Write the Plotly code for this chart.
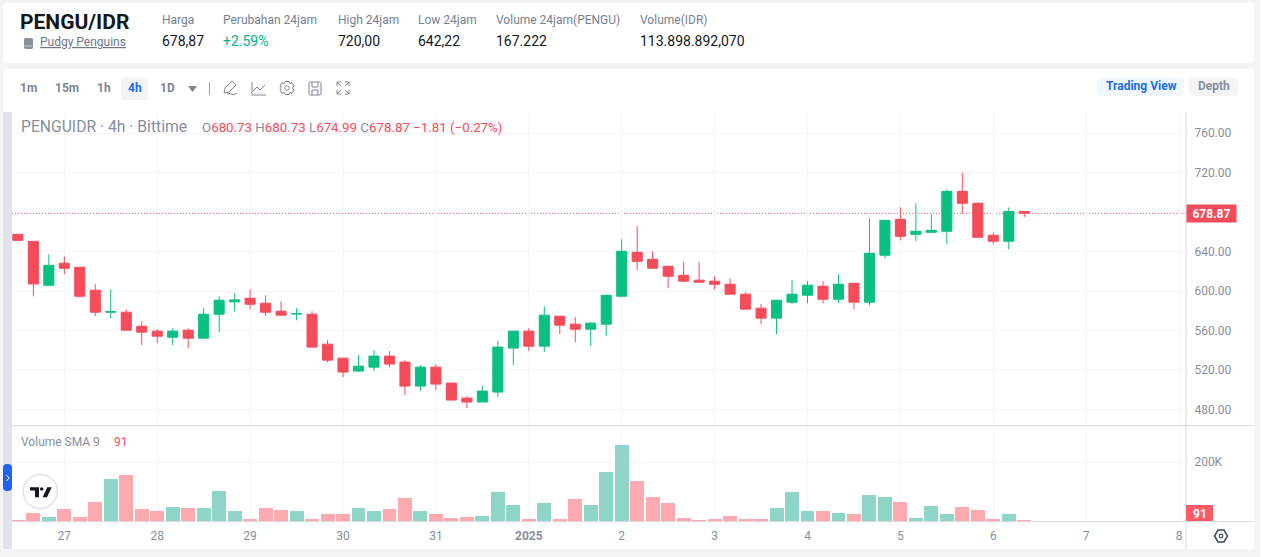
"""PENGU/IDR 4h candlestick chart with volume pane."""
import re

import pandas as pd
import plotly.graph_objects as go
from plotly.subplots import make_subplots

W, H = 1262, 557
FONT = "Roboto"
RED = "#f44c5a"
GREEN = "#0abf82"
GRAY = "#878e9e"
GRID = "#f3f4f6"
BORDER = "#d8dae0"

opens = [657.5, 650.4, 605.9, 628.2, 624.1, 600.8, 578.5, 578.5, 564.3, 559.3, 553.2, 560.3,
         552.2, 576.5, 589.0, 592.7, 587.6, 579.5, 576.6, 576.5, 546.1, 531.9, 518.8, 522.8,
         534.0, 527.9, 503.6, 522.8, 506.6, 491.4, 487.4, 497.5, 542.1, 559.3, 544.1, 574.5,
         566.4, 561.3, 566.4, 594.7, 639.3, 632.2, 625.1, 616.0, 611.0, 610.0, 606.9, 596.8,
         582.6, 572.5, 588.7, 595.8, 604.9, 591.7, 607.9, 588.7, 636.3, 672.7, 657.5, 659.6,
         660.6, 701.1, 689.0, 656.5, 650.5, 680.73]
highs = [657.5, 650.4, 637.3, 635.2, 624.1, 606.9, 601.8, 581.6, 569.4, 561.3, 562.3, 562.3,
         582.6, 594.7, 597.8, 601.8, 595.7, 589.7, 582.6, 579.5, 550.2, 531.9, 535.0, 540.0,
         539.0, 529.9, 524.8, 525.9, 506.6, 493.4, 503.6, 549.2, 559.3, 562.3, 584.6, 574.5,
         573.5, 568.4, 595.7, 652.5, 665.7, 640.3, 625.1, 629.2, 629.2, 615.0, 613.0, 598.8,
         586.7, 590.7, 611.0, 610.0, 610.0, 617.0, 607.9, 673.8, 671.7, 684.9, 688.9, 677.8,
         703.1, 720.0, 690.0, 659.6, 684.9, 680.73]
lows = [651.4, 594.7, 605.9, 617.0, 593.7, 574.5, 572.5, 559.3, 545.1, 547.1, 545.1, 542.1,
        551.2, 558.3, 579.5, 581.6, 574.5, 575.5, 570.4, 543.1, 527.9, 512.7, 517.8, 518.8,
        522.8, 494.5, 498.5, 499.5, 489.4, 481.3, 487.4, 492.4, 524.8, 539.0, 538.0, 556.2,
        548.1, 544.1, 554.2, 594.7, 621.1, 623.1, 602.9, 608.9, 608.9, 601.8, 596.8, 581.6,
        566.4, 556.3, 586.7, 587.7, 587.7, 587.7, 581.6, 585.6, 633.2, 651.5, 650.5, 658.6,
        647.4, 678.5, 654.5, 647.4, 642.4, 674.99]
closes = [651.4, 607.2, 626.1, 623.1, 594.7, 578.5, 579.2, 560.3, 558.3, 554.2, 559.3, 552.2,
          576.5, 590.7, 591.0, 586.6, 578.5, 575.5, 577.2, 543.1, 529.9, 517.8, 523.8, 534.0,
          525.9, 503.6, 522.8, 505.6, 489.4, 487.4, 498.5, 543.1, 559.3, 544.1, 575.5, 565.4,
          561.3, 567.4, 595.7, 640.3, 630.2, 623.1, 615.0, 610.0, 608.9, 606.9, 596.8, 581.6,
          572.5, 590.7, 596.8, 605.9, 591.7, 606.9, 588.7, 638.3, 671.7, 655.5, 660.6, 661.6,
          701.1, 689.0, 654.5, 650.5, 680.8, 678.87]
volumes = [3400, 27000, 14000, 41000, 14000, 65000, 143000, 157000, 41000, 34000, 48000, 44000,
           44000, 102000, 34000, 7000, 44000, 37000, 34000, 7000, 24000, 24000, 44000, 34000,
           41000, 78000, 34000, 24000, 10000, 14000, 17000, 99000, 55000, 7000, 61000, 7000,
           75000, 55000, 167000, 259000, 136000, 82000, 61000, 10000, 3400, 7000, 17000, 7000,
           7000, 44000, 99000, 34000, 34000, 27000, 24000, 89000, 82000, 65000, 10000, 51000,
           24000, 48000, 37000, 7000, 24000, 3400]

day_ticks = ["2024-12-27", "2024-12-28", "2024-12-29", "2024-12-30", "2024-12-31", "2025-01-01",
             "2025-01-02", "2025-01-03", "2025-01-04", "2025-01-05", "2025-01-06", "2025-01-07",
             "2025-01-08"]
day_labels = ["27", "28", "29", "30", "31", "<b>2025</b>", "2", "3", "4", "5", "6", "7", "8"]
price_ticks = [480, 520, 560, 600, 640, 680, 720, 760]
price_labels = ["480.00", "520.00", "560.00", "600.00", "640.00", "", "720.00", "760.00"]

header_labels = ["Harga", "Perubahan 24jam", "High 24jam", "Low 24jam", "Volume 24jam(PENGU)", "Volume(IDR)"]
header_values = ["678,87", "+2.59%", "720,00", "642,22", "167.222", "113.898.892,070"]
header_x = [162, 223, 338, 418, 496, 640]
intervals = ["1m", "15m", "1h", "4h", "1D"]
interval_x = [28.5, 67, 103.5, 135, 167]

times = pd.date_range("2024-12-26 12:00", periods=len(closes), freq="4h")
last_price = closes[-1]


def xp(x):
    return x / W


def yp(y):
    return 1 - y / H


def pix_path(d):
    # path string in page pixels -> paper coordinates
    out, is_x = [], True
    for tok in re.findall(r"[MLQCZ]|-?[\d.]+", d):
        if tok in "MLQCZ":
            out.append(tok)
            is_x = True
        else:
            out.append(f"{xp(float(tok)):.5f}" if is_x else f"{yp(float(tok)):.5f}")
            is_x = not is_x
    return " ".join(out)


def rounded(x0, y0, x1, y1, r):
    return (f"M{x0 + r} {y0} L{x1 - r} {y0} Q{x1} {y0} {x1} {y0 + r} L{x1} {y1 - r} Q{x1} {y1} {x1 - r} {y1} "
            f"L{x0 + r} {y1} Q{x0} {y1} {x0} {y1 - r} L{x0} {y0 + r} Q{x0} {y0} {x0 + r} {y0} Z")


def circle(cx, cy, r):
    k = r * 0.552
    return (f"M{cx - r} {cy} C{cx - r} {cy - k} {cx - k} {cy - r} {cx} {cy - r} "
            f"C{cx + k} {cy - r} {cx + r} {cy - k} {cx + r} {cy} "
            f"C{cx + r} {cy + k} {cx + k} {cy + r} {cx} {cy + r} "
            f"C{cx - k} {cy + r} {cx - r} {cy + k} {cx - r} {cy} Z")


shapes = []


def add_path(d, fill=None, line=None, width=1, layer="above"):
    shapes.append(dict(type="path", xref="paper", yref="paper", path=pix_path(d), layer=layer,
                       fillcolor=fill or "rgba(0,0,0,0)",
                       line=dict(color=line or "rgba(0,0,0,0)", width=width if line else 0)))


annotations = []


def add_text(x, y, text, size=12, color=GRAY, anchor="left", **kw):
    # annotations sit 2px right of their anchor because of the default padding
    annotations.append(dict(x=xp(x - 2 if anchor == "left" else x), y=yp(y), xref="paper", yref="paper",
                            text=text, showarrow=False, xanchor=anchor, yanchor="middle", align="left",
                            font=dict(family=FONT, size=size, color=color), **kw))


# cards
add_path(rounded(3, 3, 1254, 63, 4), fill="white", layer="below")
add_path(rounded(3, 69, 1254, 549, 4), fill="white", layer="below")
add_path(rounded(1260, 0, 1270, 557, 0), fill="white", layer="below")
add_path("M3 112 L12 112 L12 549 L3 549 Z", fill="#e0e3eb", layer="below")

# header
add_text(20, 22, "<b>PENGU/IDR</b>", size=21, color="#131722")
add_text(40, 42, "<u>Pudgy Penguins</u>", size=12, color="#6f7585")
add_path(rounded(24, 38, 33, 49, 1.5), fill="#8b8f99")
add_path("M24 46 L33 46", line="#c9ccd3")
for x, lab, val in zip(header_x, header_labels, header_values):
    add_text(x, 20, lab, size=12, color="#787f8f")
    add_text(x, 41, val, size=14, color="#00b386" if val.startswith("+") else "#131722")

# toolbar
add_path(rounded(121, 78, 148, 100, 3), fill="#f3f4f6", layer="below")
for x, lab in zip(interval_x, intervals):
    add_text(x, 88, f"<b>{lab}</b>", size=12, color="#1a6cf0" if lab == "4h" else "#7d8494", anchor="center")
add_path("M188 86 L197 86 L192.5 92 Z", fill="#7d8494")
add_path("M209.5 82 L209.5 95", line="#9aa0ad")
add_path("M224 93 L225 88 L232 81 L236 85 L229 92 Z M227 94 Q231 92 233 95 L237 93", line="#7d8494")
add_path("M252 82 L252 95 L266 95 M253 91 L257 87 L260 90 L265 85", line="#7d8494")
add_path("M285 81.5 L289 81.5 L289.8 83.5 L292 82.8 L294 86 L292.5 88 L294 90 L292 93.2 L289.8 92.5 L289 94.5 "
         "L285 94.5 L284.2 92.5 L282 93.2 L280 90 L281.5 88 L280 86 L282 82.8 L284.2 83.5 Z", line="#7d8494")
add_path(circle(287, 88, 2.2), line="#7d8494")
add_path(rounded(309, 82, 321, 95, 1.5), line="#7d8494")
add_path("M312 82 L312 87 L318 87 L318 82 M312 95 L312 90 L318 90 L318 95", line="#7d8494")
add_path("M337 86 L337 82 L341 82 M345 82 L349 82 L349 86 M349 90 L349 94 L345 94 M341 94 L337 94 L337 90 "
         "M337 82 L341 86 M349 82 L345 86 M349 94 L345 90 M337 94 L341 90", line="#7d8494")

add_path(rounded(1097, 78, 1184, 96, 4), fill="#f0f7ff", layer="below")
add_text(1141, 86, "<b>Trading View</b>", size=12, color="#1a6cf0", anchor="center")
add_path(rounded(1189, 78, 1238, 96, 4), fill="#f3f4f6", layer="below")
add_text(1213.5, 86, "<b>Depth</b>", size=12, color="#878e9e", anchor="center")

# pane frames
add_path("M1186 112 L1186 549", line=BORDER)
add_path("M12 425.5 L1254 425.5", line=BORDER)
add_path("M12 521.5 L1254 521.5", line=BORDER)

# pane legends
add_text(21, 126, "PENGUIDR · 4h · Bittime", size=15.7, color=GRAY)
ohlc = [("O", opens[-1]), ("H", highs[-1]), ("L", lows[-1]), ("C", closes[-1])]
ohlc_text = " ".join(f"{k}<span style='color:{RED}'>{v:.2f}</span>" for k, v in ohlc)
add_text(202, 127, f"{ohlc_text}<span style='color:{RED}'> −1.81 (−0.27%)</span>", size=13.3)
add_text(21, 442, "Volume SMA 9", size=12, color=GRAY)
add_text(114, 442, "91", size=12, color=RED)

# left handle and logo
add_path(rounded(3, 464, 12, 491, 4), fill="#1f63f0")
add_path("M6.5 475 L9 478 L6.5 481", line="white")
add_path(circle(40.3, 491.5, 17), fill="white", line="#e0e3eb", width=1.5)
add_path("M30 487.3 L39 487.3 L39 497.3 L35 497.3 L35 490.6 L30 490.6 Z", fill="#131722")
add_path(circle(41.7, 489, 1.7), fill="#131722")
add_path("M47.3 487.3 L51.7 487.3 L47 497.3 L42.7 497.3 Z", fill="#131722")

# settings hexagon bottom right
add_path("M1214.5 536 L1218 530 L1224 530 L1227.5 536 L1224 542 L1218 542 Z", line="#3c4866", width=1.5)
add_path(circle(1221, 536, 1.8), line="#3c4866", width=1.2)

# dotted last price line
shapes.append(dict(type="line", xref="paper", x0=xp(12), x1=xp(1186), yref="y", y0=last_price, y1=last_price,
                   layer="below", line=dict(color=RED, width=1, dash="1px,2px")))

# last value tags
annotations.append(dict(x=xp(1186), y=last_price, xref="paper", yref="y", text="<b>678.87</b>", showarrow=False,
                        xanchor="left", yanchor="middle", bgcolor=RED, width=47, height=15, align="center",
                        font=dict(family=FONT, size=12, color="white")))
add_path(rounded(1186, 505, 1213, 521, 1), fill="#fb5a66")
add_text(1199.5, 513.5, "<b>91</b>", size=12, color="white", anchor="center")

fig = make_subplots(rows=2, cols=1, shared_xaxes=True)
fig.add_trace(go.Candlestick(
    x=times, open=opens, high=highs, low=lows, close=closes,
    increasing=dict(line=dict(color=GREEN, width=1), fillcolor=GREEN),
    decreasing=dict(line=dict(color=RED, width=1), fillcolor=RED),
    whiskerwidth=0,
), row=1, col=1)
fig.add_trace(go.Bar(
    x=times, y=volumes, width=4 * 3600 * 1000 * 0.9,
    marker=dict(color=["#8fd5c7" if c >= o else "#fda9b0" for o, c in zip(opens, closes)], line_width=0),
), row=2, col=1)

x_range = ["2024-12-26 10:29", "2025-01-08 01:47"]
axis_font = dict(family=FONT, size=12, color=GRAY)
fig.update_xaxes(range=x_range, domain=[xp(12), xp(1186)], tickvals=day_ticks, ticktext=day_labels,
                 showgrid=True, gridcolor=GRID, gridwidth=1, tickfont=axis_font, ticks="outside",
                 ticklen=4, tickcolor="white", rangeslider_visible=False, zeroline=False, showline=False)
fig.update_xaxes(showticklabels=False, ticks="", row=1, col=1)
fig.update_yaxes(side="right", showgrid=True, gridcolor=GRID, gridwidth=1, tickfont=axis_font, zeroline=False,
                 ticks="outside", ticklen=5, tickcolor="white", showline=False)
fig.update_yaxes(domain=[yp(425), yp(112)], range=[464.1, 781.6], tickvals=price_ticks, ticktext=price_labels,
                 row=1, col=1)
fig.update_yaxes(domain=[yp(521), yp(427)], range=[0, 320000], tickvals=[200000], ticktext=["200K"], row=2, col=1)

fig.update_layout(
    width=W, height=H, margin=dict(l=0, r=0, t=0, b=0), autosize=False,
    paper_bgcolor="#f3f4f6", plot_bgcolor="rgba(0,0,0,0)",
    showlegend=False, boxgap=0.35, boxgroupgap=0, bargap=0, font=dict(family=FONT),
    shapes=shapes, annotations=annotations,
)

fig.write_html("out.html", config=dict(displayModeBar=False),
               post_script="document.body.style.margin='0';")
